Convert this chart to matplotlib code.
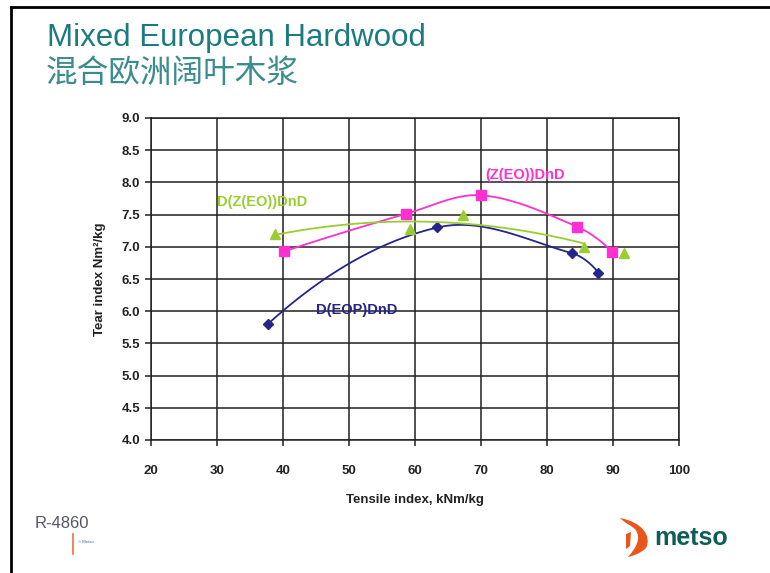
import matplotlib.pyplot as plt
import matplotlib.patches as mpatches
from matplotlib.path import Path
import numpy as np

plt.rcParams['font.family'] = ['Liberation Sans', 'DejaVu Sans']

# tensile index (kNm/kg) vs tear index (Nm2/kg)
eop_x = [37.7, 63.4, 83.8, 87.8]
eop_y = [5.8, 7.3, 6.9, 6.6]

zeo_x = [40.2, 58.6, 70.0, 84.6, 89.9]
zeo_y = [6.93, 7.51, 7.8, 7.31, 6.92]

dzeo_x = [38.8, 59.3, 67.3, 85.6, 91.6]
dzeo_y = [7.2, 7.28, 7.49, 7.0, 6.9]

xticks = [20, 30, 40, 50, 60, 70, 80, 90, 100]
yticks = [4.0, 4.5, 5.0, 5.5, 6.0, 6.5, 7.0, 7.5, 8.0, 8.5, 9.0]


def smooth(xs, ys, n=40):
    # cubic hermite through the points, tangents from neighbours
    x = np.asarray(xs, float)
    y = np.asarray(ys, float)
    m = np.empty_like(y)
    m[1:-1] = (y[2:] - y[:-2]) / (x[2:] - x[:-2])
    m[0] = 2 * (y[1] - y[0]) / (x[1] - x[0]) - m[1]
    m[-1] = 2 * (y[-1] - y[-2]) / (x[-1] - x[-2]) - m[-2]
    px, py = [], []
    for i in range(len(x) - 1):
        h = x[i + 1] - x[i]
        t = np.linspace(0, 1, n)
        h00 = 2 * t ** 3 - 3 * t ** 2 + 1
        h10 = t ** 3 - 2 * t ** 2 + t
        h01 = -2 * t ** 3 + 3 * t ** 2
        h11 = t ** 3 - t ** 2
        px.append(x[i] + h * t)
        py.append(h00 * y[i] + h10 * h * m[i] + h01 * y[i + 1] + h11 * h * m[i + 1])
    return np.concatenate(px), np.concatenate(py)


W, H = 770, 573
fig = plt.figure(figsize=(W / 100, H / 100), dpi=100)
ax = fig.add_axes([151 / W, (H - 440) / H, 528 / W, 322 / H])

navy = '#25258a'
pink = '#ff2fd2'
green = '#9acd32'

sx, sy = smooth(eop_x, eop_y)
ax.plot(sx, sy, color=navy, lw=1.3)
ax.plot(eop_x, eop_y, 'D', color=navy, ms=5.5, lw=0)

sx, sy = smooth(zeo_x, zeo_y)
ax.plot(sx, sy, color=pink, lw=1.3)
ax.plot(zeo_x, zeo_y, 's', color=pink, ms=6.5, lw=0)

# quadratic trend line, drawn over the first four points
cf = np.polyfit(dzeo_x, dzeo_y, 2)
tx = np.linspace(dzeo_x[0], dzeo_x[3], 60)
ax.plot(tx, np.polyval(cf, tx), color=green, lw=1.3)
ax.plot(dzeo_x, dzeo_y, '^', color=green, ms=6.5, lw=0)

ax.text(76.7, 8.11, '(Z(EO))DnD', color=pink, fontsize=10.5, fontweight='bold', ha='center', va='center')
ax.text(36.8, 7.70, 'D(Z(EO))DnD', color=green, fontsize=10.5, fontweight='bold', ha='center', va='center')
ax.text(51.2, 6.02, 'D(EOP)DnD', color=navy, fontsize=10.5, fontweight='bold', ha='center', va='center')

ax.set_xlim(20, 100)
ax.set_ylim(4, 9)
ax.set_xticks(xticks)
ax.set_yticks(yticks)
ax.set_yticklabels([f'{v:.1f}' for v in yticks])
ax.grid(True, color='#202020', lw=1.1)
for s in ax.spines.values():
    s.set_color('#202020')
    s.set_linewidth(1.1)
ax.tick_params(direction='out', length=4, width=1.1, color='#202020', labelsize=9.5,
               labelcolor='#222222')
ax.tick_params(axis='x', pad=14)
ax.tick_params(axis='y', pad=4)
for lab in ax.get_xticklabels() + ax.get_yticklabels():
    lab.set_fontweight('bold')
ax.set_xlabel('Tensile index, kNm/kg', fontsize=9.5, fontweight='bold', color='#222222', labelpad=12)
ax.set_ylabel('Tear index Nm²/kg', fontsize=9.5, fontweight='bold', color='#222222', labelpad=11)

# slide frame, title and footer
fig.add_artist(plt.Line2D([11 / W, 11 / W], [0, 1 - 7 / H], color='black', lw=2))
fig.add_artist(plt.Line2D([11 / W, 1], [1 - 7 / H, 1 - 7 / H], color='black', lw=2))
fig.text(47 / W, 1 - 38 / H, 'Mixed European Hardwood', fontsize=22.5, color='#1c7b7c', va='center')
fig.text(46 / W, 1 - 73 / H, '混合欧洲阔叶木浆', fontsize=22.8, color='#3a8d8c', va='center',
         family=['Noto Sans CJK SC', 'DejaVu Sans'])
fig.text(35 / W, 1 - 523 / H, 'R-4860', fontsize=12, color='#555566', va='center')
fig.add_artist(plt.Line2D([73 / W, 73 / W], [1 - 554 / H, 1 - 534 / H], color='#f07040', lw=1.2))
fig.text(78 / W, 1 - 542 / H, '© Metso', fontsize=3, color='#2a7a8a', va='center')

# logo: orange swoosh and wordmark
pts = [(620, 518), (642, 522), (652, 536), (646, 548),
       (640, 554), (632, 556), (628, 557),
       (636, 548), (642, 538), (635, 529),
       (630, 525), (625, 523), (620, 518)]
codes = [Path.MOVETO, Path.CURVE4, Path.CURVE4, Path.CURVE4,
         Path.CURVE4, Path.CURVE4, Path.CURVE4,
         Path.CURVE4, Path.CURVE4, Path.CURVE4,
         Path.CURVE4, Path.CURVE4, Path.CURVE4]
verts = [(x / W, 1 - y / H) for x, y in pts]
fig.add_artist(mpatches.PathPatch(Path(verts, codes), transform=fig.transFigure,
                                  facecolor='#e8561c', edgecolor='none'))
lp = [(626, 534), (631, 532), (630, 546), (626, 549), (626, 534)]
fig.add_artist(mpatches.Polygon([(x / W, 1 - y / H) for x, y in lp], closed=True,
                                transform=fig.transFigure, facecolor='#e8561c', edgecolor='none'))
fig.text(654 / W, 1 - 538 / H, 'metso', fontsize=18, fontweight='bold', color='#0e5e58', va='center')

fig.savefig('out.png', dpi=100)
